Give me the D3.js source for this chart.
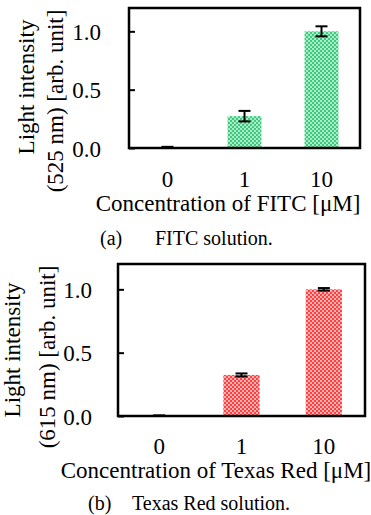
<!DOCTYPE html>
<html>
<head>
<meta charset="utf-8">
<script src="https://cdn.jsdelivr.net/npm/d3@7"></script>
<style>
  html, body { margin: 0; padding: 0; background: #fff; }
  svg { display: block; }
</style>
</head>
<body>
<svg id="chart" width="371" height="515"></svg>
<script>
// ---- data ----
const categories = ["0", "1", "10"];
const fitcValues = [0.0, 0.273, 1.0];
const fitcErrors = [0.01, 0.045, 0.043];
const texasValues = [0.0, 0.324, 1.0];
const texasErrors = [0.005, 0.012, 0.01];
const yTicks = [0.0, 0.5, 1.0];
const yTickLabels = ["0.0", "0.5", "1.0"];

const SERIF = "'Times New Roman', 'Liberation Serif', 'DejaVu Serif', serif";
const svg = d3.select("#chart");

const patterns = svg.append("defs");
function makePattern(id, dark, light) {
  const p = patterns.append("pattern").attr("id", id)
    .attr("patternUnits", "userSpaceOnUse").attr("width", 4).attr("height", 4);
  p.append("rect").attr("width", 4).attr("height", 4).attr("fill", dark);
  p.append("rect").attr("x", 0).attr("y", 0).attr("width", 2).attr("height", 2).attr("fill", light);
  p.append("rect").attr("x", 2).attr("y", 2).attr("width", 2).attr("height", 2).attr("fill", light);
}
makePattern("greenPat", "#3fc97e", "#a9ecc6");
makePattern("redPat", "#ff4040", "#ffb0b0");

function txt(sel, size) {
  return sel.style("font-family", SERIF).style("font-size", size + "px").style("fill", "#000");
}

function drawPanel(cfg) {
  const g = svg.append("g");
  const x = d3.scaleBand().domain(categories).range([cfg.left, cfg.right]).paddingInner(0.56).paddingOuter(0.28);
  const y = d3.scaleLinear().domain([0, 1.2]).range([cfg.bottom, cfg.top]);

  // bars
  g.selectAll("rect.bar").data(cfg.values).join("rect")
    .attr("class", "bar")
    .attr("x", (d, i) => x(categories[i]))
    .attr("width", x.bandwidth())
    .attr("y", d => y(d))
    .attr("height", d => y(0) - y(d))
    .attr("fill", `url(#${cfg.pattern})`);

  // error bars
  const eb = g.selectAll("g.err").data(cfg.values).join("g").attr("class", "err");
  const cx = i => x(categories[i]) + x.bandwidth() / 2;
  const hi = (d, i) => y(d + cfg.errors[i]);
  const lo = (d, i) => y(Math.max(0, d - cfg.errors[i]));
  eb.append("line")
    .attr("x1", (d, i) => cx(i)).attr("x2", (d, i) => cx(i))
    .attr("y1", hi).attr("y2", lo)
    .attr("stroke", "#000").attr("stroke-width", 2);
  eb.append("line")
    .attr("x1", (d, i) => cx(i) - 6).attr("x2", (d, i) => cx(i) + 6)
    .attr("y1", hi).attr("y2", hi)
    .attr("stroke", "#000").attr("stroke-width", 2);
  eb.append("line")
    .attr("x1", (d, i) => cx(i) - 6).attr("x2", (d, i) => cx(i) + 6)
    .attr("y1", lo).attr("y2", lo)
    .attr("stroke", "#000").attr("stroke-width", 2);

  // frame
  g.append("rect")
    .attr("x", cfg.left).attr("y", cfg.top)
    .attr("width", cfg.right - cfg.left).attr("height", cfg.bottom - cfg.top)
    .attr("fill", "none").attr("stroke", "#000").attr("stroke-width", 2.5);

  // y axis (inward ticks)
  const yAxis = d3.axisLeft(y).tickValues(yTicks).tickFormat((d, i) => yTickLabels[i])
    .tickSizeInner(-6).tickSizeOuter(0).tickPadding(cfg.yPad);
  const ya = g.append("g").attr("transform", `translate(${cfg.left},0)`).call(yAxis);
  ya.select(".domain").remove();
  ya.selectAll(".tick line").attr("stroke", "#000").attr("stroke-width", 2);
  txt(ya.selectAll(".tick text"), 23).attr("dy", "0.35em");

  // x axis labels (no ticks)
  const xAxis = d3.axisBottom(x).tickSize(0).tickPadding(cfg.xPad);
  const xa = g.append("g").attr("transform", `translate(0,${cfg.bottom})`).call(xAxis);
  xa.select(".domain").remove();
  txt(xa.selectAll(".tick text"), 23);

  // titles
  txt(g.append("text").attr("x", cfg.xTitleX).attr("y", cfg.xTitleY).attr("text-anchor", "middle"), 23)
    .text(cfg.xTitle);
  txt(g.append("text").attr("transform", `translate(${cfg.yT1x},${cfg.yT1y}) rotate(-90)`)
    .attr("text-anchor", "middle"), 23).text("Light intensity");
  txt(g.append("text").attr("transform", `translate(${cfg.yT2x},${cfg.yT2y}) rotate(-90)`)
    .attr("text-anchor", "middle"), 23).text(cfg.yTitle2);

  // caption
  txt(g.append("text").attr("x", cfg.capX).attr("y", cfg.capY), 20).text(cfg.capA);
  txt(g.append("text").attr("x", cfg.capX2).attr("y", cfg.capY), 20).text(cfg.capB);
}

drawPanel({
  left: 129, right: 360, top: 8, bottom: 148,
  values: fitcValues, errors: fitcErrors, pattern: "greenPat",
  yPad: 28, xPad: 23,
  xTitle: "Concentration of FITC [μM]", xTitleX: 228, xTitleY: 211,
  yTitle2: "(525 nm) [arb. unit]",
  yT1x: 34, yT1y: 87, yT2x: 63, yT2y: 101,
  capA: "(a)", capB: "FITC solution.", capX: 100, capX2: 155, capY: 245
});

drawPanel({
  left: 118, right: 365, top: 264, bottom: 416,
  values: texasValues, errors: texasErrors, pattern: "redPat",
  yPad: 26, xPad: 22,
  xTitle: "Concentration of Texas Red [μM]", xTitleX: 216, xTitleY: 478,
  yTitle2: "(615 nm) [arb. unit]",
  yT1x: 20, yT1y: 350, yT2x: 55, yT2y: 357,
  capA: "(b)", capB: "Texas Red solution.", capX: 88, capX2: 132, capY: 510
});
</script>
</body>
</html>
